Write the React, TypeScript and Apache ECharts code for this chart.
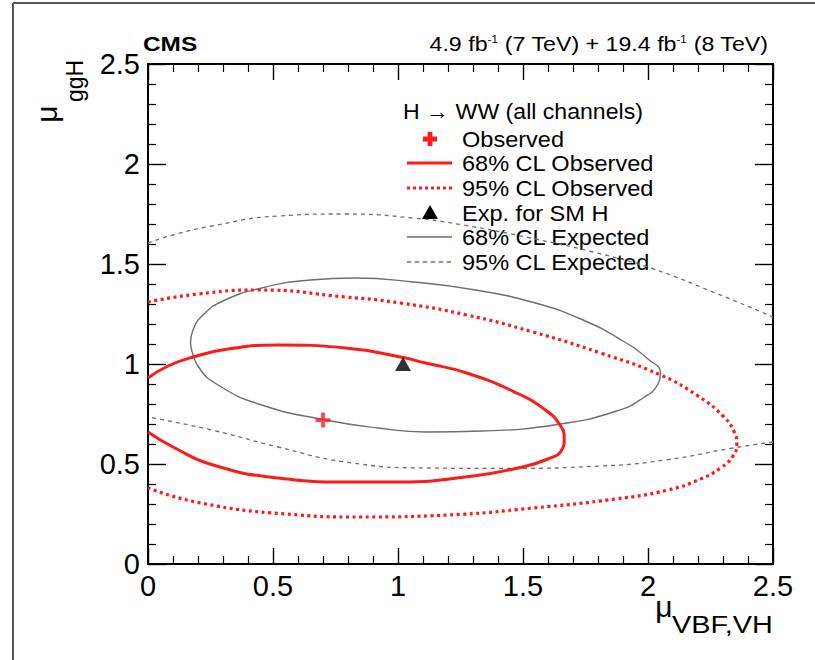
import React, { useEffect, useRef } from 'react';
import * as echarts from 'echarts';

const FONT = '"Liberation Sans", Arial, Helvetica, sans-serif';

// Axis ranges
const X_MIN = 0;
const X_MAX = 2.5;
const Y_MIN = 0;
const Y_MAX = 2.5;
const TICK_STEP = 0.5;

// Best-fit points
const observedBest: number[][] = [[0.70, 0.72]];
const smExpected: number[][] = [[1.02, 1.0]];

// 68% CL observed contour (red, solid)
const obs68: number[][] = [
  [0, 0.93], [0.08, 0.99], [0.18, 1.035], [0.32, 1.075], [0.52, 1.095], [0.79, 1.08],
  [1.01, 1.035], [1.11, 1.005], [1.275, 0.955], [1.475, 0.855], [1.59, 0.77], [1.645, 0.70],
  [1.665, 0.63], [1.655, 0.57], [1.6, 0.525], [1.48, 0.48], [1.3, 0.44], [1.01, 0.41],
  [0.80, 0.41], [0.52, 0.43], [0.26, 0.495], [0.10, 0.585], [0, 0.66],
];

// 95% CL observed contour (red, dotted)
const obs95: number[][] = [
  [0, 1.31], [0.2, 1.35], [0.44, 1.37], [0.79, 1.335], [1.01, 1.305], [1.275, 1.245],
  [1.54, 1.16], [1.81, 1.055], [2.05, 0.945], [2.2, 0.84], [2.3, 0.74], [2.345, 0.66],
  [2.355, 0.6], [2.34, 0.54], [2.29, 0.48], [2.21, 0.425], [2.08, 0.37], [1.87, 0.325],
  [1.54, 0.28], [1.2, 0.245], [0.85, 0.235], [0.55, 0.25], [0.21, 0.305], [0, 0.38],
];

// 68% CL expected contour (grey, solid, closed)
const exp68: number[][] = [
  [0.17, 1.105], [0.18, 1.17], [0.22, 1.245], [0.30, 1.315], [0.455, 1.38], [0.65, 1.42],
  [0.83, 1.43], [1.06, 1.41], [1.31, 1.37], [1.55, 1.305], [1.74, 1.22], [1.9, 1.115],
  [2.0, 1.025], [2.05, 0.955], [2.04, 0.9], [1.98, 0.83], [1.875, 0.765], [1.65, 0.7],
  [1.34, 0.665], [1.11, 0.66], [0.92, 0.68], [0.71, 0.72], [0.455, 0.795], [0.28, 0.895],
  [0.2, 0.99], [0.17, 1.105],
];

// 95% CL expected contour (grey, dashed) – upper and lower branches inside the frame
const exp95Upper: number[][] = [
  [0, 1.605], [0.1, 1.645], [0.255, 1.69], [0.52, 1.74], [0.79, 1.75], [1.06, 1.73],
  [1.26, 1.695], [1.53, 1.63], [1.78, 1.56], [2.01, 1.48], [2.27, 1.355], [2.5, 1.235],
];
const exp95Lower: number[][] = [
  [2.5, 0.61], [2.34, 0.58], [2.07, 0.52], [1.81, 0.49], [1.41, 0.478], [1.11, 0.48],
  [0.79, 0.51], [0.52, 0.585], [0.255, 0.67], [0, 0.735],
];

const legendTitle = 'H \u2192 WW (all channels)';
const legendLabels = [
  'Observed',
  '68% CL Observed',
  '95% CL Observed',
  'Exp. for SM H',
  '68% CL Expected',
  '95% CL Expected',
];

const RED = '#ff1a1a';
const GREY = '#6e6e6e';

function xAxisCfg(position: 'bottom' | 'top', showLabel: boolean) {
  return {
    type: 'value',
    min: X_MIN,
    max: X_MAX,
    interval: TICK_STEP,
    position,
    axisLine: { show: true, onZero: false, lineStyle: { color: '#000', width: 2 } },
    axisTick: { show: true, inside: true, length: 16, lineStyle: { color: '#000', width: 1.4 } },
    minorTick: { show: true, splitNumber: 5, length: 8, lineStyle: { color: '#000', width: 1.2 } },
    splitLine: { show: false },
    minorSplitLine: { show: false },
    axisLabel: { show: showLabel, fontSize: 29, lineHeight: 28, color: '#000', fontFamily: FONT, margin: 8 },
  };
}

function yAxisCfg(position: 'left' | 'right', showLabel: boolean) {
  return {
    type: 'value',
    min: Y_MIN,
    max: Y_MAX,
    interval: TICK_STEP,
    position,
    axisLine: { show: true, onZero: false, lineStyle: { color: '#000', width: 2 } },
    axisTick: { show: true, inside: true, length: 18, lineStyle: { color: '#000', width: 1.4 } },
    minorTick: { show: true, splitNumber: 5, length: 8, lineStyle: { color: '#000', width: 1.2 } },
    splitLine: { show: false },
    minorSplitLine: { show: false },
    axisLabel: { show: showLabel, fontSize: 29, lineHeight: 28, color: '#000', fontFamily: FONT, margin: 8 },
  };
}

function buildLegend() {
  const ys = [139, 163, 188, 213, 237, 262];
  const textX = 462;
  const els: any[] = [];
  els.push({
    type: 'text', x: 403, y: 112, scaleX: 1.05,
    style: { text: legendTitle, font: `22px ${FONT}`, fill: '#000', align: 'left', verticalAlign: 'middle' },
  });
  legendLabels.forEach((label, i) => {
    els.push({
      type: 'text', x: textX, y: ys[i], scaleX: 1.07,
      style: { text: label, font: `22px ${FONT}`, fill: '#000', align: 'left', verticalAlign: 'middle' },
    });
  });
  const cx = 430;
  const c = ys[0];
  const a = 7, t = 2.4;
  els.push({
    type: 'polygon',
    shape: {
      points: [
        [cx - t, c - a], [cx + t, c - a], [cx + t, c - t], [cx + a, c - t], [cx + a, c + t],
        [cx + t, c + t], [cx + t, c + a], [cx - t, c + a], [cx - t, c + t], [cx - a, c + t],
        [cx - a, c - t], [cx - t, c - t],
      ],
    },
    style: { fill: RED },
  });
  els.push({ type: 'line', shape: { x1: 407, y1: ys[1], x2: 452, y2: ys[1] }, style: { stroke: RED, lineWidth: 3 } });
  els.push({ type: 'line', shape: { x1: 407, y1: ys[2], x2: 452, y2: ys[2] }, style: { stroke: RED, lineWidth: 3, lineDash: [3, 3] } });
  const ty = ys[3];
  els.push({
    type: 'polygon',
    shape: { points: [[cx, ty - 8], [cx + 8, ty + 6], [cx - 8, ty + 6]] },
    style: { fill: '#000' },
  });
  els.push({ type: 'line', shape: { x1: 407, y1: ys[4], x2: 452, y2: ys[4] }, style: { stroke: GREY, lineWidth: 1.3 } });
  els.push({ type: 'line', shape: { x1: 407, y1: ys[5], x2: 452, y2: ys[5] }, style: { stroke: GREY, lineWidth: 1.3, lineDash: [4, 4] } });
  return els;
}

export default function App() {
  const ref = useRef<HTMLDivElement>(null);
  useEffect(() => {
    if (!ref.current) return;
    const chart = echarts.init(ref.current, null, { renderer: 'svg' });
    const curve = (data: number[][], color: string, width: number, dash: any, name: string) => ({
      name,
      type: 'line',
      data,
      xAxisIndex: 0,
      yAxisIndex: 0,
      symbol: 'none',
      showSymbol: false,
      smooth: 0.5,
      clip: true,
      lineStyle: { color, width, type: dash },
      z: 2,
    });
    const option: any = {
      animation: false,
      backgroundColor: '#fff',
      grid: { left: 148, top: 64, width: 625, height: 500, containLabel: false },
      xAxis: [xAxisCfg('bottom', true), xAxisCfg('top', false)],
      yAxis: [yAxisCfg('left', true), yAxisCfg('right', false)],
      series: [
        curve(exp95Upper, GREY, 1.3, [4, 4], '95% CL Expected'),
        curve(exp95Lower, GREY, 1.3, [4, 4], '95% CL Expected'),
        curve(exp68, GREY, 1.4, 'solid', '68% CL Expected'),
        curve(obs95, RED, 3.2, [3, 3.5], '95% CL Observed'),
        curve(obs68, RED, 3, 'solid', '68% CL Observed'),
        {
          name: 'Observed',
          type: 'scatter',
          data: observedBest,
          symbol: 'path://M3,0H5V3H8V5H5V8H3V5H0V3H3Z',
          symbolSize: 15,
          itemStyle: { color: RED },
          z: 5,
        },
        {
          name: 'Exp. for SM H',
          type: 'scatter',
          data: smExpected,
          symbol: 'triangle',
          symbolSize: [16, 14],
          itemStyle: { color: '#000' },
          z: 5,
        },
      ],
      graphic: [
        { type: 'line', shape: { x1: 13, y1: 3, x2: 815, y2: 3 }, style: { stroke: '#555', lineWidth: 2 } },
        { type: 'line', shape: { x1: 13, y1: 3, x2: 13, y2: 660 }, style: { stroke: '#555', lineWidth: 2 } },
        {
          type: 'text', x: 143, y: 44, scaleX: 1.22,
          style: { text: 'CMS', font: `bold 20px ${FONT}`, fill: '#000', align: 'left', verticalAlign: 'middle' },
        },
        {
          type: 'text', x: 768, y: 44, scaleX: 1.16,
          style: {
            text: '4.9 fb{sup|-1} (7 TeV) + 19.4 fb{sup|-1} (8 TeV)',
            font: `20px ${FONT}`, fontSize: 20, fontFamily: FONT, fill: '#000', align: 'right', verticalAlign: 'middle',
            rich: { sup: { fontSize: 10, fontFamily: FONT, verticalAlign: 'top', fill: '#000' } },
          },
        },
        {
          type: 'text', x: 664, y: 606,
          style: { text: '\u03bc', font: `30px ${FONT}`, lineHeight: 22, fill: '#000', align: 'center', verticalAlign: 'middle' },
        },
        {
          type: 'text', x: 672, y: 625, scaleX: 1.2,
          style: { text: 'VBF,VH', font: `24px ${FONT}`, lineHeight: 20, fill: '#000', align: 'left', verticalAlign: 'middle' },
        },
        {
          type: 'text', x: 46, y: 114, rotation: Math.PI / 2,
          style: { text: '\u03bc', font: `30px ${FONT}`, fill: '#000', align: 'center', verticalAlign: 'middle' },
        },
        {
          type: 'text', x: 75, y: 81, rotation: Math.PI / 2,
          style: { text: 'ggH', font: `23px ${FONT}`, fill: '#000', align: 'center', verticalAlign: 'middle' },
        },
        ...buildLegend(),
      ],
    };
    chart.setOption(option);
    return () => chart.dispose();
  }, []);
  return (
    <div
      ref={ref}
      style={{ position: 'absolute', left: 0, top: 0, width: 815, height: 660, background: '#fff' }}
    />
  );
}
